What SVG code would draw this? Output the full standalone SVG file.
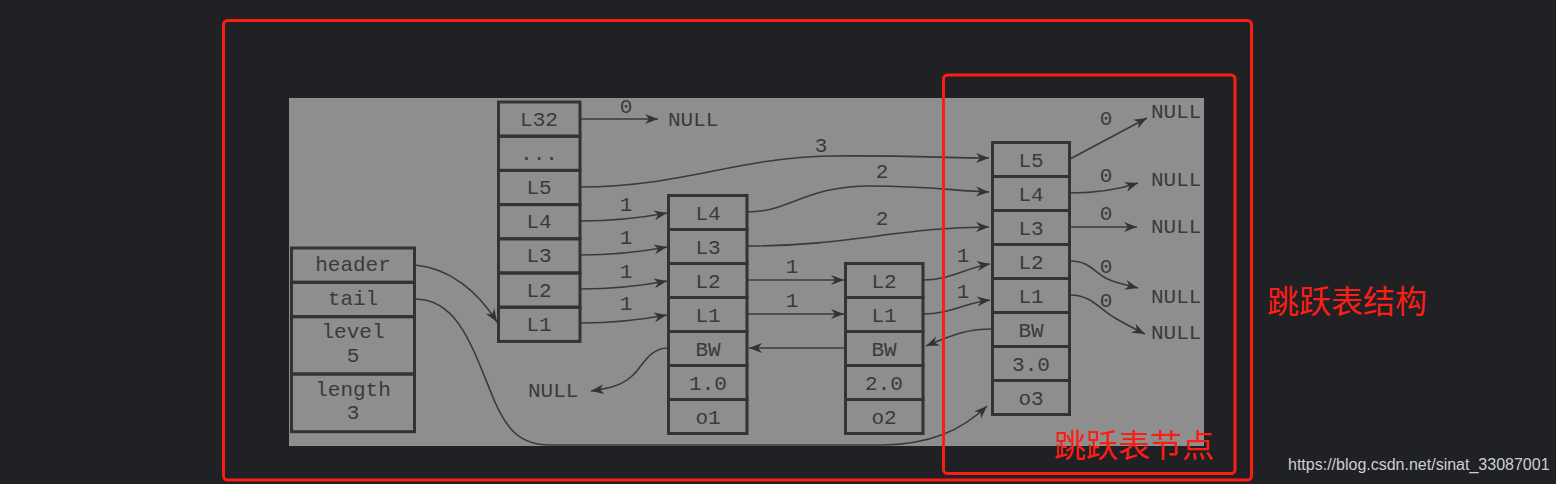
<svg xmlns="http://www.w3.org/2000/svg" width="1556" height="484" viewBox="0 0 1556 484">
<style>
.cell{fill:none;stroke:#333;stroke-width:3}
.t{font-family:"Liberation Mono","DejaVu Sans Mono",monospace;font-size:21px;fill:#3a3a3a;text-anchor:middle}
.ts{font-family:"Liberation Mono","DejaVu Sans Mono",monospace;font-size:21px;fill:#3a3a3a}
.c{fill:none;stroke:#3a3a3a;stroke-width:1.6;marker-end:url(#arr)}
.red{fill:none;stroke:#fa1e14;stroke-width:3}
.cn{font-family:"Noto Sans CJK SC",sans-serif;font-size:32px;fill:#fa1e14}
</style>
<defs>
<marker id="arr" markerWidth="14" markerHeight="12" refX="13" refY="6" orient="auto" markerUnits="userSpaceOnUse">
<path d="M0,1 L13,6 L0,11 L4,6 z" fill="#333"/>
</marker>
</defs>
<rect width="1556" height="484" fill="#202124"/>
<rect x="289" y="98" width="915" height="348" fill="#8e8e8e"/>

<g id="connectors">
<path class="c" d="M581,119 L658,119"/>
<path class="c" d="M581,187 C680,187 740,157 830,156 C900,155 950,158 989,158"/>
<path class="c" d="M747,212 C790,212 805,186 870,186 C930,186 955,191 989,192"/>
<path class="c" d="M747,246 C850,246 900,227 989,227"/>
<path class="c" d="M581,221 C615,221 640,218 667,213"/>
<path class="c" d="M581,255 C615,255 640,252 667,247"/>
<path class="c" d="M581,289 C615,289 640,286 667,281"/>
<path class="c" d="M581,323 C615,323 640,320 667,315"/>
<path class="c" d="M747,280 L844,280"/>
<path class="c" d="M747,314 L844,314"/>
<path class="c" d="M845,348 L749,348"/>
<path class="c" d="M668,348 C648,348 642,368 632,376 C620,387 605,389 591,391"/>
<path class="c" d="M923,280 C950,280 965,268 990,264"/>
<path class="c" d="M923,314 C950,314 965,303 990,300"/>
<path class="c" d="M992,329 C965,329 950,336 926,346"/>
<path class="c" d="M415,299 C455,299 470,340 490,390 C505,430 520,445 550,445 L880,445 C930,445 962,430 987,406"/>
<path class="c" d="M415,265 C450,268 478,292 497,322"/>
<path class="c" d="M1070,159 L1147,118"/>
<path class="c" d="M1070,193 C1100,193 1120,189 1138,183"/>
<path class="c" d="M1070,227 L1137,227"/>
<path class="c" d="M1070,261 C1092,261 1095,275 1110,280 C1120,284 1130,286 1138,288"/>
<path class="c" d="M1070,295 C1092,295 1100,310 1115,318 C1125,324 1135,329 1145,334"/>
<g id="connector-labels">
<text class="t" x="626" y="113">0</text>
<text class="t" x="821" y="152">3</text>
<text class="t" x="882" y="178">2</text>
<text class="t" x="882" y="225">2</text>
<text class="t" x="626" y="211">1</text>
<text class="t" x="626" y="244">1</text>
<text class="t" x="626" y="278">1</text>
<text class="t" x="626" y="310">1</text>
<text class="t" x="792" y="273">1</text>
<text class="t" x="792" y="307">1</text>
<text class="t" x="963" y="262">1</text>
<text class="t" x="963" y="298">1</text>
<text class="t" x="1106" y="125">0</text>
<text class="t" x="1106" y="182">0</text>
<text class="t" x="1106" y="220">0</text>
<text class="t" x="1106" y="273">0</text>
<text class="t" x="1106" y="307">0</text>
</g>
</g>

<g id="null-targets">
<text class="ts" x="668" y="126">NULL</text>
<text class="ts" x="528" y="397">NULL</text>
<text class="ts" x="1151" y="118">NULL</text>
<text class="ts" x="1151" y="186">NULL</text>
<text class="ts" x="1151" y="233">NULL</text>
<text class="ts" x="1151" y="303">NULL</text>
<text class="ts" x="1151" y="339">NULL</text>
</g>

<g id="skiplist">
<rect class="cell" x="291.5" y="248" width="123" height="34.3"/>
<rect class="cell" x="291.5" y="282.3" width="123" height="34.4"/>
<rect class="cell" x="291.5" y="316.7" width="123" height="57.3"/>
<rect class="cell" x="291.5" y="374" width="123" height="57.7"/>
<text class="t" x="353" y="271">header</text>
<text class="t" x="353" y="305">tail</text>
<text class="t" x="353" y="338">level</text>
<text class="t" x="353" y="362">5</text>
<text class="t" x="353" y="396">length</text>
<text class="t" x="353" y="419">3</text>
</g>

<g id="header-node">
<rect class="cell" x="498.5" y="102" width="81.5" height="34.2"/>
<rect class="cell" x="498.5" y="136.2" width="81.5" height="34.2"/>
<rect class="cell" x="498.5" y="170.4" width="81.5" height="34.2"/>
<rect class="cell" x="498.5" y="204.6" width="81.5" height="34.2"/>
<rect class="cell" x="498.5" y="238.8" width="81.5" height="34.2"/>
<rect class="cell" x="498.5" y="273" width="81.5" height="34.2"/>
<rect class="cell" x="498.5" y="307.2" width="81.5" height="34.2"/>
<text class="t" x="539" y="126">L32</text>
<text class="t" x="539" y="160">...</text>
<text class="t" x="539" y="194">L5</text>
<text class="t" x="539" y="228">L4</text>
<text class="t" x="539" y="262">L3</text>
<text class="t" x="539" y="297">L2</text>
<text class="t" x="539" y="331">L1</text>
</g>

<g id="node-o1">
<rect class="cell" x="668.5" y="195.5" width="78.5" height="34"/>
<rect class="cell" x="668.5" y="229.5" width="78.5" height="34"/>
<rect class="cell" x="668.5" y="263.5" width="78.5" height="34"/>
<rect class="cell" x="668.5" y="297.5" width="78.5" height="34"/>
<rect class="cell" x="668.5" y="331.5" width="78.5" height="34"/>
<rect class="cell" x="668.5" y="365.5" width="78.5" height="34"/>
<rect class="cell" x="668.5" y="399.5" width="78.5" height="34"/>
<text class="t" x="708" y="219.5">L4</text>
<text class="t" x="708" y="253.5">L3</text>
<text class="t" x="708" y="287.5">L2</text>
<text class="t" x="708" y="321.5">L1</text>
<text class="t" x="708" y="355.5">BW</text>
<text class="t" x="708" y="389.5">1.0</text>
<text class="t" x="708" y="423.5">o1</text>
</g>

<g id="node-o2">
<rect class="cell" x="845.5" y="263.5" width="77.5" height="34"/>
<rect class="cell" x="845.5" y="297.5" width="77.5" height="34"/>
<rect class="cell" x="845.5" y="331.5" width="77.5" height="34"/>
<rect class="cell" x="845.5" y="365.5" width="77.5" height="34"/>
<rect class="cell" x="845.5" y="399.5" width="77.5" height="34"/>
<text class="t" x="884" y="287.5">L2</text>
<text class="t" x="884" y="321.5">L1</text>
<text class="t" x="884" y="355.5">BW</text>
<text class="t" x="884" y="389.5">2.0</text>
<text class="t" x="884" y="423.5">o2</text>
</g>

<g id="node-o3">
<rect class="cell" x="992.5" y="142.5" width="77" height="34"/>
<rect class="cell" x="992.5" y="176.5" width="77" height="34"/>
<rect class="cell" x="992.5" y="210.5" width="77" height="34"/>
<rect class="cell" x="992.5" y="244.5" width="77" height="34"/>
<rect class="cell" x="992.5" y="278.5" width="77" height="34"/>
<rect class="cell" x="992.5" y="312.5" width="77" height="34"/>
<rect class="cell" x="992.5" y="346.5" width="77" height="34"/>
<rect class="cell" x="992.5" y="380.5" width="77" height="34"/>
<text class="t" x="1031" y="166.5">L5</text>
<text class="t" x="1031" y="200.5">L4</text>
<text class="t" x="1031" y="234.5">L3</text>
<text class="t" x="1031" y="268.5">L2</text>
<text class="t" x="1031" y="302.5">L1</text>
<text class="t" x="1031" y="336.5">BW</text>
<text class="t" x="1031" y="370.5">3.0</text>
<text class="t" x="1031" y="404.5">o3</text>
</g>

<g id="annotations">
<rect class="red" x="223.5" y="20.5" width="1028" height="459.5" rx="4"/>
<rect class="red" x="943.5" y="75" width="291.5" height="398.5" rx="4"/>
<text class="cn" x="1267" y="313">跳跃表结构</text>
<text class="cn" x="1054" y="457">跳跃表节点</text>
<text x="1288" y="470" font-family="Liberation Sans, Arial, sans-serif" font-size="16" fill="#cfcfcf">https://blog.csdn.net/sinat_33087001</text>
</g>
</svg>
